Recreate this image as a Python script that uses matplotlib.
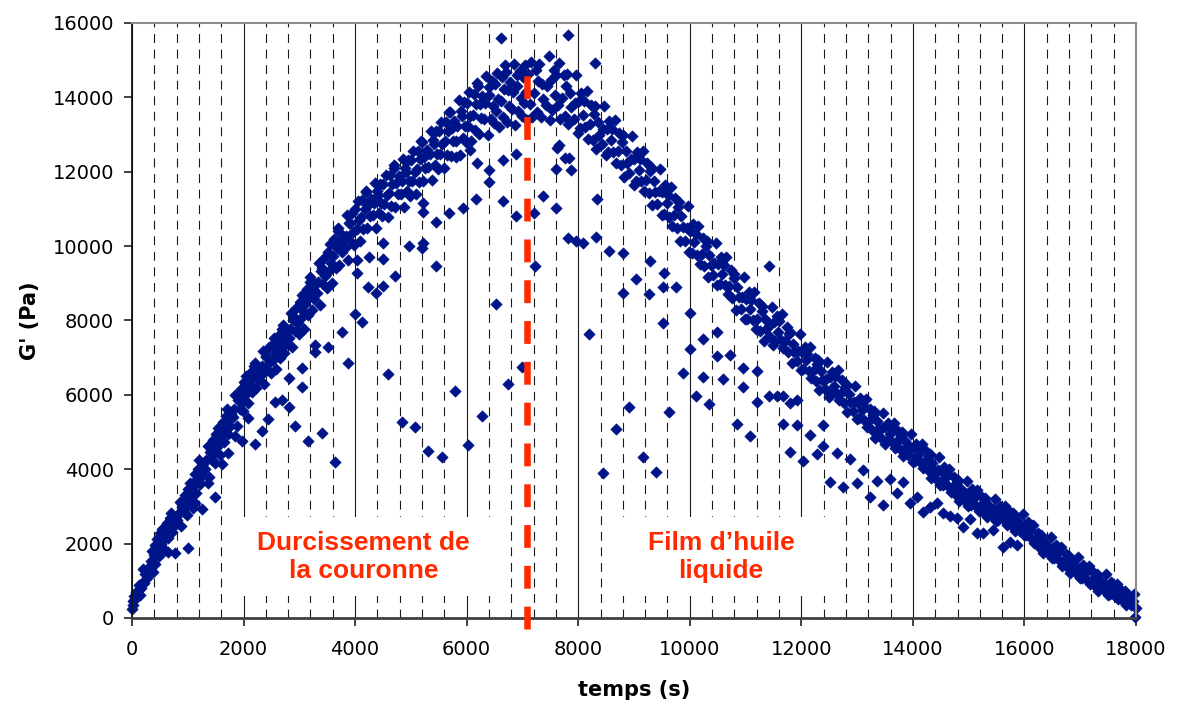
import numpy as np
import matplotlib.pyplot as plt
from matplotlib.patches import Rectangle
from matplotlib.ticker import MultipleLocator

# G' (Pa) en fonction du temps (s), lu sur le graphique
# montée : durcissement de la couronne
rise_a = [
    (0, 250), (12, 470), (26, 360), (40, 590), (55, 510), (70, 690), (86, 620),
    (110, 730), (130, 880), (150, 620), (170, 810), (190, 960),
    (200, 1320), (220, 950), (240, 1190), (260, 1080), (280, 1250),
    (315, 1390), (335, 1540), (355, 1790), (375, 1240), (395, 1690),
    (408, 1970), (428, 1710), (448, 2130), (468, 1850), (488, 1660),
    (505, 2280), (525, 2000), (545, 2400), (565, 2120), (585, 1820),
    (610, 2320), (630, 2560), (650, 2140), (670, 2440), (690, 2680),
    (700, 2820), (720, 2300), (740, 2630), (760, 2480), (780, 2720),
    (815, 2640), (835, 2820), (855, 3110), (875, 2470), (895, 2990),
    (908, 3130), (928, 2840), (948, 3300), (968, 2990), (988, 2780),
    (1005, 3480), (1025, 3160), (1045, 3620), (1065, 3300), (1085, 2960),
    (1110, 3580), (1130, 3870), (1150, 3370), (1170, 3730), (1190, 4020),
    (1200, 4260), (1220, 3590), (1240, 4020), (1260, 3820), (1280, 4130),
    (1315, 4020), (1335, 4240), (1355, 4630), (1375, 3790), (1395, 4470),
    (1408, 4590), (1428, 4250), (1448, 4790), (1468, 4430), (1488, 4180),
    (1505, 4950), (1525, 4590), (1545, 5110), (1565, 4750), (1585, 4370),
    (1610, 4960), (1630, 5270), (1650, 4730), (1670, 5110), (1690, 5430),
    (1700, 5620), (1720, 4940), (1740, 5370), (1760, 5160), (1780, 5480),
    (1815, 5400), (1835, 5620), (1855, 6000), (1875, 5170), (1895, 5850),
    (1908, 5960), (1928, 5620), (1948, 6160), (1968, 5800), (1988, 5560),
]
rise_b = [
    (2005, 6350), (2025, 5990), (2045, 6510), (2065, 6150), (2085, 5770),
    (2110, 6300), (2130, 6620), (2150, 6080), (2170, 6460), (2190, 6780),
    (2200, 6860), (2220, 6190), (2240, 6620), (2260, 6420), (2280, 6730),
    (2315, 6530), (2335, 6770), (2355, 7180), (2375, 6290), (2395, 7010),
    (2408, 7050), (2428, 6680), (2448, 7280), (2468, 6880), (2488, 6600),
    (2505, 7340), (2525, 6950), (2545, 7520), (2565, 7120), (2585, 6700),
    (2610, 7250), (2630, 7600), (2650, 7000), (2670, 7420), (2690, 7780),
    (2700, 7870), (2720, 7120), (2740, 7600), (2760, 7370), (2780, 7720),
    (2815, 7520), (2835, 7780), (2855, 8200), (2875, 7280), (2895, 8020),
    (2908, 8100), (2928, 7710), (2948, 8340), (2968, 7920), (2988, 7640),
    (3005, 8500), (3025, 8060), (3045, 8690), (3065, 8250), (3085, 7780),
    (3110, 8440), (3130, 8840), (3150, 8160), (3170, 8640), (3190, 9040),
    (3200, 9170), (3220, 8270), (3240, 8840), (3260, 8570), (3280, 8990),
    (3315, 8730), (3335, 9030), (3355, 9540), (3375, 8430), (3395, 9330),
    (3408, 9420), (3428, 8970), (3448, 9690), (3468, 9210), (3488, 8880),
    (3505, 9830), (3525, 9330), (3545, 10050), (3565, 9550), (3585, 9020),
    (3610, 9740), (3630, 10190), (3650, 9410), (3670, 9960), (3690, 10420),
    (3700, 10480), (3720, 9500), (3740, 10120), (3760, 9830), (3780, 10280),
    (3815, 9960), (3835, 10280), (3855, 10840), (3875, 9630), (3895, 10610),
    (3908, 10610), (3928, 10120), (3948, 10900), (3968, 10380), (3988, 10030),
    (4005, 10990), (4025, 10470), (4045, 11220), (4065, 10700), (4085, 10150),
    (4110, 10790), (4130, 11240), (4150, 10460), (4170, 11010), (4190, 11470),
    (4200, 11460), (4220, 10480), (4240, 11100), (4260, 10810), (4280, 11260),
    (4315, 10830), (4335, 11150), (4355, 11710), (4375, 10500), (4395, 11480),
    (4408, 11380), (4428, 10890), (4448, 11670), (4468, 11150), (4488, 10800),
]
rise_c = [
    (4505, 11680), (4525, 11130), (4545, 11910), (4565, 11370), (4585, 10790),
    (4610, 11430), (4630, 11920), (4650, 11080), (4670, 11680), (4690, 12170),
    (4700, 12090), (4720, 11040), (4740, 11710), (4760, 11390), (4780, 11880),
    (4815, 11390), (4835, 11740), (4855, 12330), (4875, 11040), (4895, 12090),
    (4908, 11990), (4928, 11470), (4948, 12310), (4968, 11750), (4988, 11360),
    (5005, 12320), (5025, 11760), (5045, 12560), (5065, 12000), (5085, 11400),
    (5110, 12080), (5130, 12570), (5150, 11730), (5170, 12330), (5190, 12820),
    (5200, 12790), (5220, 11740), (5240, 12400), (5260, 12090), (5280, 12580),
    (5315, 12130), (5335, 12490), (5355, 13100), (5375, 11770), (5395, 12850),
    (5408, 12750), (5428, 12190), (5448, 13090), (5468, 12490), (5488, 12080),
    (5505, 13090), (5525, 12490), (5545, 13350), (5565, 12750), (5585, 12110),
    (5610, 12830), (5630, 13350), (5650, 12450), (5670, 13090), (5690, 13610),
    (5700, 13600), (5720, 12430), (5740, 13170), (5760, 12820), (5780, 13360),
    (5815, 12840), (5835, 13240), (5855, 13920), (5875, 12440), (5895, 13640),
    (5908, 13510), (5928, 12910), (5948, 13870), (5968, 13230), (5988, 12790),
    (6005, 13860), (6025, 13220), (6045, 14140), (6065, 13500), (6085, 12820),
    (6110, 13520), (6130, 14090), (6150, 13110), (6170, 13810), (6190, 14380),
    (6200, 14300), (6220, 13020), (6240, 13830), (6260, 13450), (6280, 14040),
    (6315, 13420), (6335, 13840), (6355, 14570), (6375, 12990), (6395, 14270),
    (6408, 14070), (6428, 13430), (6448, 14450), (6468, 13770), (6488, 13300),
    (6505, 14350), (6525, 13640), (6545, 14650), (6565, 13950), (6585, 13200),
    (6610, 13910), (6630, 14540), (6650, 13460), (6670, 14230), (6690, 14860),
    (6700, 14680), (6720, 13330), (6740, 14190), (6760, 13780), (6780, 14410),
    (6815, 13700), (6835, 14150), (6855, 14910), (6875, 13250), (6895, 14600),
    (6908, 14300), (6928, 13630), (6948, 14710), (6968, 13990), (6988, 13490),
    (7005, 14560), (7025, 13840), (7045, 14870), (7065, 14150), (7085, 13390),
]
# descente : film d'huile liquide
fall_a = [
    (7105, 14630), (7130, 13820), (7155, 14950), (7180, 13460),
    (7212, 14110), (7237, 14740), (7262, 13620), (7287, 14430),
    (7300, 14910), (7325, 13470), (7350, 14370), (7375, 13960),
    (7418, 13800), (7443, 14300), (7468, 15110), (7493, 13400),
    (7508, 14470), (7533, 13660), (7558, 14740), (7583, 14070),
    (7605, 14600), (7630, 13790), (7655, 14920), (7680, 13430),
    (7712, 13990), (7737, 14610), (7762, 13510), (7787, 14300),
    (7800, 14640), (7825, 13280), (7850, 14130), (7875, 13750),
    (7918, 13410), (7943, 13860), (7968, 14600), (7993, 13040),
    (8008, 13890), (8033, 13170), (8058, 14130), (8083, 13530),
    (8105, 13890), (8130, 13190), (8155, 14160), (8180, 12880),
    (8212, 13280), (8237, 13800), (8262, 12860), (8287, 13540),
    (8300, 13760), (8325, 12610), (8350, 13330), (8375, 13000),
    (8418, 12750), (8443, 13140), (8468, 13770), (8493, 12440),
    (8508, 13160), (8533, 12530), (8558, 13370), (8583, 12850),
    (8605, 13150), (8630, 12520), (8655, 13400), (8680, 12240),
    (8712, 12550), (8737, 13040), (8762, 12170), (8787, 12800),
    (8800, 12980), (8825, 11860), (8850, 12560), (8875, 12240),
    (8918, 11960), (8943, 12330), (8968, 12950), (8993, 11650),
    (9008, 12350), (9033, 11760), (9058, 12540), (9083, 12050),
    (9105, 12330), (9130, 11740), (9155, 12550), (9180, 11480),
    (9212, 11790), (9237, 12240), (9262, 11430), (9287, 12010),
    (9300, 12140), (9325, 11100), (9350, 11750), (9375, 11460),
    (9418, 11130), (9443, 11480), (9468, 12070), (9493, 10830),
    (9508, 11450), (9533, 10860), (9558, 11640), (9583, 11150),
    (9605, 11380), (9630, 10790), (9655, 11600), (9680, 10530),
    (9712, 10840), (9737, 11290), (9762, 10480), (9787, 11060),
    (9800, 11190), (9825, 10150), (9850, 10800), (9875, 10510),
    (9918, 10130), (9943, 10480), (9968, 11070), (9993, 9830),
]
fall_b = [
    (10008, 10400), (10033, 9810), (10058, 10590), (10083, 10100),
    (10105, 10330), (10130, 9770), (10155, 10550), (10180, 9520),
    (10212, 9790), (10237, 10210), (10262, 9460), (10287, 10000),
    (10300, 10130), (10325, 9170), (10350, 9770), (10375, 9500),
    (10418, 9220), (10443, 9550), (10468, 10090), (10493, 8950),
    (10508, 9530), (10533, 8990), (10558, 9710), (10583, 9260),
    (10605, 9500), (10630, 8960), (10655, 9710), (10680, 8720),
    (10712, 8940), (10737, 9360), (10762, 8610), (10787, 9150),
    (10800, 9250), (10825, 8290), (10850, 8890), (10875, 8620),
    (10918, 8300), (10943, 8630), (10968, 9170), (10993, 8030),
    (11008, 8580), (11033, 8040), (11058, 8760), (11083, 8310),
    (11105, 8550), (11130, 8010), (11155, 8760), (11180, 7770),
    (11212, 8040), (11237, 8460), (11262, 7710), (11287, 8250),
    (11300, 8390), (11325, 7460), (11350, 8040), (11375, 7780),
    (11418, 7580), (11443, 7880), (11468, 8370), (11493, 7330),
    (11508, 7950), (11533, 7450), (11558, 8110), (11583, 7700),
    (11605, 7980), (11630, 7480), (11655, 8170), (11680, 7260),
    (11712, 7450), (11737, 7820), (11762, 7160), (11787, 7630),
    (11800, 7690), (11825, 6860), (11850, 7380), (11875, 7140),
    (11918, 6900), (11943, 7180), (11968, 7630), (11993, 6680),
    (12008, 7150), (12033, 6700), (12058, 7300), (12083, 6930),
    (12105, 7100), (12130, 6650), (12155, 7280), (12180, 6450),
    (12212, 6650), (12237, 7000), (12262, 6380), (12287, 6830),
    (12300, 6930), (12325, 6130), (12350, 6630), (12375, 6400),
    (12418, 6150), (12443, 6430), (12468, 6880), (12493, 5930),
    (12508, 6470), (12533, 6020), (12558, 6620), (12583, 6250),
    (12605, 6500), (12630, 6050), (12655, 6680), (12680, 5850),
    (12712, 6050), (12737, 6390), (12762, 5790), (12787, 6220),
    (12800, 6300), (12825, 5550), (12850, 6020), (12875, 5810),
    (12918, 5570), (12943, 5820), (12968, 6240), (12993, 5360),
]
fall_c = [
    (13008, 5790), (13033, 5380), (13058, 5920), (13083, 5580),
    (13105, 5730), (13130, 5320), (13155, 5880), (13180, 5140),
    (13212, 5300), (13237, 5620), (13262, 5060), (13287, 5460),
    (13300, 5560), (13325, 4840), (13350, 5290), (13375, 5080),
    (13418, 4880), (13443, 5120), (13468, 5510), (13493, 4690),
    (13508, 5130), (13533, 4750), (13558, 5250), (13583, 4940),
    (13605, 5100), (13630, 4740), (13655, 5240), (13680, 4580),
    (13712, 4760), (13737, 5040), (13762, 4540), (13787, 4900),
    (13800, 5000), (13825, 4360), (13850, 4760), (13875, 4580),
    (13918, 4370), (13943, 4590), (13968, 4950), (13993, 4190),
    (14008, 4570), (14033, 4210), (14058, 4690), (14083, 4390),
    (14105, 4550), (14130, 4190), (14155, 4690), (14180, 4030),
    (14212, 4210), (14237, 4490), (14262, 3990), (14287, 4350),
    (14300, 4400), (14325, 3760), (14350, 4160), (14375, 3980),
    (14418, 3750), (14443, 3970), (14468, 4330), (14493, 3570),
    (14508, 3940), (14533, 3580), (14558, 4060), (14583, 3760),
    (14605, 3890), (14630, 3550), (14655, 4020), (14680, 3400),
    (14712, 3530), (14737, 3790), (14762, 3340), (14787, 3660),
    (14800, 3710), (14825, 3150), (14850, 3500), (14875, 3350),
    (14918, 3180), (14943, 3370), (14968, 3680), (14993, 3020),
    (15008, 3350), (15033, 3040), (15058, 3460), (15083, 3200),
    (15105, 3320), (15130, 3010), (15155, 3440), (15180, 2880),
    (15212, 3020), (15237, 3250), (15262, 2840), (15287, 3130),
    (15300, 3220), (15325, 2710), (15350, 3030), (15375, 2880),
    (15418, 2750), (15443, 2920), (15468, 3190), (15493, 2620),
    (15508, 2910), (15533, 2640), (15558, 3000), (15583, 2780),
    (15605, 2900), (15630, 2630), (15655, 3010), (15680, 2510),
    (15712, 2650), (15737, 2860), (15762, 2490), (15787, 2760),
    (15800, 2830), (15825, 2350), (15850, 2650), (15875, 2510),
    (15918, 2350), (15943, 2520), (15968, 2790), (15993, 2220),
    (16008, 2490), (16033, 2220), (16058, 2580), (16083, 2360),
    (16105, 2400), (16130, 2130), (16155, 2510), (16180, 2010),
    (16212, 2070), (16237, 2280), (16262, 1910), (16287, 2180),
    (16300, 2230), (16325, 1750), (16350, 2050), (16375, 1910),
    (16418, 1750), (16443, 1920), (16468, 2190), (16493, 1620),
    (16508, 1870), (16533, 1600), (16558, 1960), (16583, 1740),
    (16605, 1800), (16630, 1530), (16655, 1910), (16680, 1410),
    (16712, 1520), (16737, 1730), (16762, 1360), (16787, 1630),
    (16800, 1680), (16825, 1200), (16850, 1500), (16875, 1360),
    (16918, 1200), (16943, 1370), (16968, 1640), (16993, 1070),
    (17008, 1340), (17033, 1070), (17058, 1430), (17083, 1210),
    (17105, 1300), (17130, 1030), (17155, 1410), (17180, 910),
    (17212, 1020), (17237, 1230), (17262, 860), (17287, 1130),
    (17300, 1190), (17325, 720), (17350, 1010), (17375, 880),
    (17418, 760), (17443, 910), (17468, 1170), (17493, 630),
    (17508, 880), (17533, 640), (17558, 960), (17583, 760),
    (17605, 830), (17630, 600), (17655, 910), (17680, 500),
    (17712, 600), (17737, 760), (17762, 470), (17787, 680),
    (17800, 720), (17825, 360), (17850, 580), (17875, 490),
    (17918, 350), (17943, 460), (17968, 640), (17993, 260), (17990, 40),
]
# points isolés hors de la bande principale
scatter_rise = [
    (410, 1450), (650, 1770), (770, 1750), (1000, 1880), (1130, 3090),
    (1250, 2930), (1360, 3630), (1490, 3250), (1610, 4140), (1720, 4430),
    (1850, 4890), (1970, 4760), (2080, 5380), (2200, 4680), (2330, 5030),
    (2440, 5350), (2560, 5800), (2690, 5860), (2820, 5680), (2820, 6450),
    (2920, 5160), (3050, 6210), (3050, 6720), (3160, 4760), (3280, 7150),
    (3280, 7340), (3410, 4970), (3510, 7290), (3640, 4190), (3760, 7690),
    (3870, 6860), (4000, 8170), (4030, 9630), (4030, 9280), (4120, 7960),
    (4230, 8900), (4250, 9710), (4370, 8740), (4500, 8930), (4500, 9650),
    (4500, 10080), (4590, 6560), (4720, 9200), (4840, 5270), (4970, 10000),
    (5070, 5140), (5200, 9950), (5220, 10080), (5220, 10920), (5220, 11160),
    (5310, 4490), (5450, 9470), (5450, 10650), (5560, 4330), (5690, 10890),
    (5790, 6100), (5810, 12400), (5940, 11020), (6030, 4650), (6060, 12580),
    (6170, 11270), (6180, 12230), (6280, 5430), (6400, 11720), (6400, 12050),
    (6520, 8450), (6620, 15600), (6650, 11210), (6650, 12320), (6740, 6290),
    (6880, 10810), (6880, 12480), (6990, 6750),
]
scatter_fall = [
    (7200, 10890), (7230, 9470), (7370, 11350), (7600, 11020), (7600, 12070),
    (7620, 12640), (7650, 12720), (7770, 12370), (7820, 15680), (7830, 12370),
    (7870, 12050), (7820, 10220), (7960, 10150), (8090, 10080), (8300, 14920),
    (8320, 10250), (8340, 11270), (8200, 7630), (8450, 3900), (8550, 9870),
    (8680, 5080), (8800, 9810), (8800, 8740), (8910, 5680), (9040, 9120),
    (9160, 4330), (9270, 8710), (9290, 9600), (9400, 3930), (9520, 8900),
    (9520, 7930), (9540, 9280), (9630, 5540), (9750, 8900), (9880, 6590),
    (10000, 8200), (10000, 7230), (10110, 5970), (10240, 7500), (10240, 6480),
    (10350, 5750), (10490, 7690), (10490, 7040), (10600, 6430), (10720, 7070),
    (10850, 5220), (10960, 6720), (10960, 6210), (11080, 4890), (11210, 5810),
    (11210, 6640), (11420, 5970), (11420, 9470), (11560, 5970), (11670, 5970),
    (11670, 5220), (11800, 4460), (11800, 5780), (11920, 5860), (11920, 5190),
    (12030, 4220), (12160, 4920), (12280, 4410), (12390, 5190), (12390, 4620),
    (12520, 3660), (12640, 4440), (12750, 3520), (12870, 4280), (13000, 3630),
    (13110, 3980), (13230, 3250), (13360, 3680), (13470, 3040), (13590, 3740),
    (13720, 3360), (13830, 3660), (13950, 3090), (14080, 3250), (14180, 2850),
    (14310, 2980), (14430, 3090), (14540, 2820), (14670, 2740), (14790, 2690),
    (14900, 2450), (15030, 2660), (15150, 2290), (15260, 2290), (15440, 2370),
    (15620, 1910), (15740, 2040), (15870, 1960),
]

t_split = 7080          # limite entre les deux régimes
split_top = 14750
labels_left = 'Durcissement de\nla couronne'
labels_right = 'Film d\u2019huile\nliquide'

pts = rise_a + rise_b + rise_c + fall_a + fall_b + fall_c + scatter_rise + scatter_fall
t = np.array([p[0] for p in pts], dtype=float)
g = np.array([p[1] for p in pts], dtype=float)

red = '#FF2A00'
navy = '#001489'

fig = plt.figure(figsize=(11.77, 7.09), dpi=100)
ax = fig.add_axes([0.11215, 0.12835, 0.85302, 0.83921])

ax.set_xlim(0, 18000)
ax.set_ylim(0, 16000)
ax.xaxis.set_major_locator(MultipleLocator(2000))
ax.xaxis.set_minor_locator(MultipleLocator(400))
ax.yaxis.set_major_locator(MultipleLocator(2000))

ax.set_axisbelow(True)
ax.grid(which='major', axis='x', color='#1a1a1a', lw=0.8)
ax.grid(which='minor', axis='x', color='#1a1a1a', lw=0.8, dashes=(8, 6))
ax.grid(which='major', axis='y', visible=False)

# cadres blancs derrière les légendes
ax.add_patch(Rectangle((1670, 590), 5050, 2130, facecolor='white', edgecolor='none', zorder=1))
ax.add_patch(Rectangle((8490, 590), 4120, 2130, facecolor='white', edgecolor='none', zorder=1))

ax.scatter(t, g, marker='D', s=34, color=navy, edgecolors=navy, linewidths=0.4,
           clip_on=False, zorder=2)

ax.plot([t_split, t_split], [-290, split_top], color=red, lw=4.7, dashes=(3.5, 2.75),
        dash_capstyle='butt', clip_on=False, zorder=3)

ax.text(4150, 1640, labels_left, ha='center', va='center', color=red, fontsize=19,
        fontweight='bold', family='Liberation Sans', linespacing=1.25, zorder=4)
ax.text(10560, 1640, labels_right, ha='center', va='center', color=red, fontsize=19,
        fontweight='bold', family='Liberation Sans', linespacing=1.25, zorder=4)

for s in ['top', 'right']:
    ax.spines[s].set_color('#8c8c8c')
    ax.spines[s].set_linewidth(1.5)
ax.spines['left'].set_color('#111111')
ax.spines['left'].set_linewidth(1.3)
ax.spines['bottom'].set_color('#404040')
ax.spines['bottom'].set_linewidth(2)

ax.tick_params(which='major', direction='out', length=6, width=1.2, color='#222222',
               labelsize=14)
ax.tick_params(axis='y', pad=7)
ax.tick_params(axis='x', pad=10)
ax.tick_params(which='minor', length=0)

ax.set_ylabel("G' (Pa)", fontsize=15, fontweight='bold', va='center')
ax.yaxis.set_label_coords(-0.1016, 0.5)
ax.set_xlabel('temps (s)', fontsize=15, fontweight='bold', va='center')
ax.xaxis.set_label_coords(0.5, -0.121)

fig.savefig('out.png', dpi=100)
